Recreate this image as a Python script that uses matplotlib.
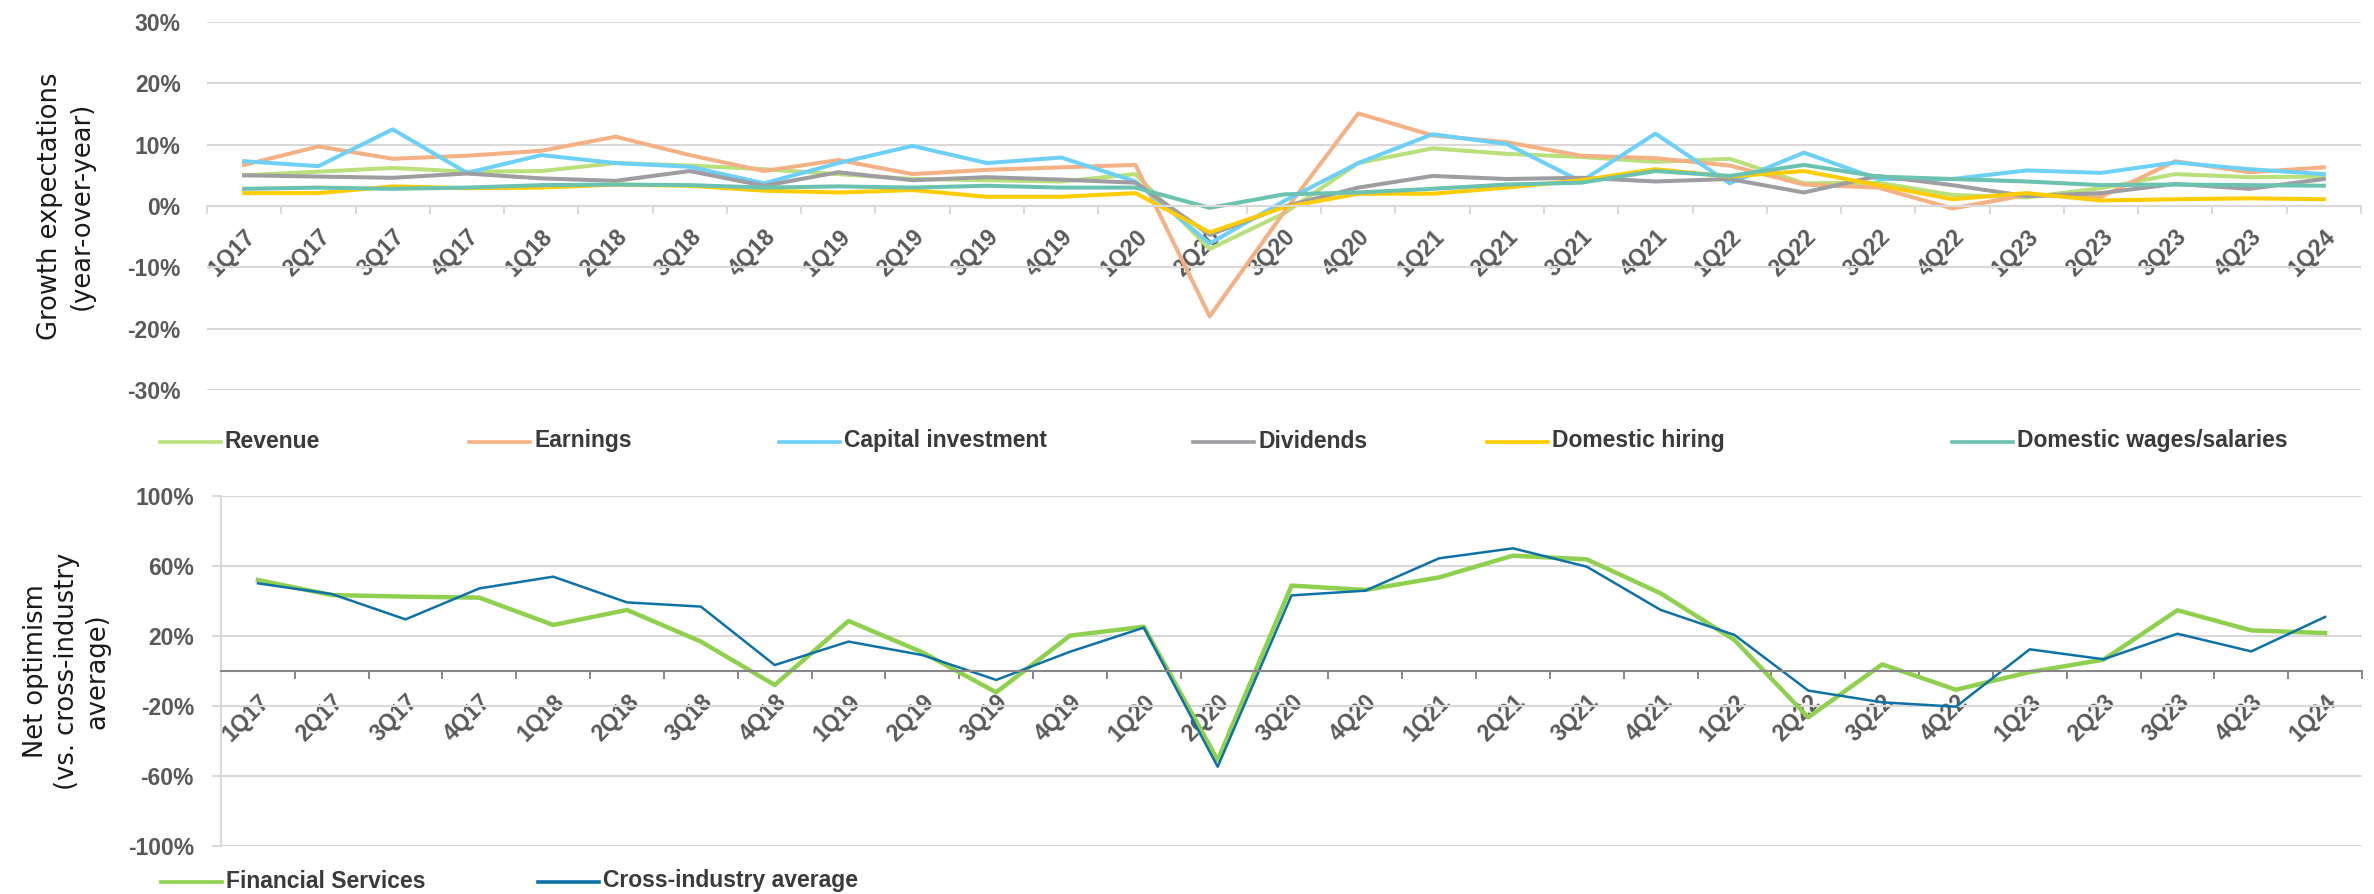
import matplotlib
matplotlib.use("Agg")
import matplotlib.pyplot as plt
import matplotlib.ticker as ticker
from matplotlib.lines import Line2D
import numpy as np

plt.rcParams['font.family'] = ['Liberation Sans', 'DejaVu Sans']
plt.rcParams['font.weight'] = 'bold'

quarters = ['1Q17', '2Q17', '3Q17', '4Q17', '1Q18', '2Q18', '3Q18', '4Q18',
            '1Q19', '2Q19', '3Q19', '4Q19', '1Q20', '2Q20', '3Q20', '4Q20',
            '1Q21', '2Q21', '3Q21', '4Q21', '1Q22', '2Q22', '3Q22', '4Q22',
            '1Q23', '2Q23', '3Q23', '4Q23', '1Q24']

# growth expectations (%, year-over-year)
revenue = [5.0, 5.6, 6.2, 5.6, 5.7, 7.0, 6.6, 6.0, 5.2, 4.4, 4.2, 4.0, 5.2, -7.0, -1.2,
           7.0, 9.4, 8.5, 8.0, 7.2, 7.7, 3.7, 3.8, 1.8, 1.4, 2.9, 5.2, 4.7, 4.8]
earnings = [6.7, 9.7, 7.7, 8.2, 9.0, 11.3, 8.3, 5.7, 7.5, 5.2, 5.9, 6.3, 6.7, -18.0, -1.0,
            15.1, 11.5, 10.4, 8.2, 7.8, 6.6, 3.5, 3.0, -0.4, 1.8, 1.5, 7.3, 5.5, 6.3]
capital_investment = [7.3, 6.5, 12.5, 5.4, 8.3, 7.0, 6.4, 3.7, 7.0, 9.8, 7.0, 7.9, 4.0, -6.1, 0.8,
                      7.0, 11.7, 10.1, 4.0, 11.8, 3.7, 8.7, 4.4, 4.4, 5.8, 5.4, 7.1, 6.0, 5.2]
dividends = [5.0, 4.8, 4.6, 5.3, 4.5, 4.1, 5.7, 3.3, 5.5, 4.2, 4.7, 4.3, 3.8, -4.7, -0.1,
             3.0, 4.9, 4.4, 4.6, 4.0, 4.4, 2.2, 4.9, 3.4, 1.6, 2.1, 3.6, 2.8, 4.4]
domestic_hiring = [2.1, 2.1, 3.2, 2.9, 3.0, 3.5, 3.3, 2.5, 2.2, 2.6, 1.5, 1.5, 2.1, -4.3, -0.2,
                   2.0, 2.0, 3.0, 4.2, 6.0, 4.8, 5.7, 3.4, 1.1, 2.1, 0.9, 1.1, 1.25, 1.1]
domestic_wages = [2.8, 3.0, 2.8, 3.0, 3.4, 3.5, 3.4, 3.0, 3.2, 3.0, 3.3, 3.0, 3.0, -0.3, 1.9,
                  2.2, 2.8, 3.5, 3.8, 5.7, 4.9, 6.7, 4.8, 4.4, 4.0, 3.4, 3.5, 3.4, 3.3]

# net optimism (%)
financial_services = [52.0, 43.4, 42.5, 41.9, 26.3, 34.9, 16.8, -8.0, 28.6, 10.7, -12.2, 20.2, 25.3,
                      -50.9, 48.8, 46.3, 53.5, 65.9, 63.8, 44.4, 17.7, -26.5, 3.8, -10.7, -0.6, 6.5,
                      34.7, 23.2, 21.7]
cross_industry = [50.1, 44.0, 29.5, 47.2, 53.9, 39.2, 36.8, 3.4, 16.8, 9.1, -5.1, 11.0, 24.8,
                  -54.7, 43.2, 45.9, 64.4, 70.1, 59.6, 34.9, 20.6, -11.2, -17.9, -20.4, 12.4, 6.7,
                  21.3, 11.2, 30.9]

top_names = ['Revenue', 'Earnings', 'Capital investment', 'Dividends',
             'Domestic hiring', 'Domestic wages/salaries']
top_series = [revenue, earnings, capital_investment, dividends, domestic_hiring, domestic_wages]
top_colors = ['#B9E07A', '#F4B183', '#6DD0F7', '#9E9EA2', '#FFCC00', '#6CC2B0']
top_legend_x = [160, 469, 779, 1193, 1487, 1952]

bottom_names = ['Financial Services', 'Cross-industry average']
bottom_series = [financial_services, cross_industry]
bottom_colors = ['#8FD14F', '#0E72A6']
bottom_widths = [3.2, 1.8]
bottom_legend_x = [161, 538]

W, H = 2374, 894
fig = plt.figure(figsize=(W / 100, H / 100), dpi=100)


def box(l, t, r, b):
    return [l / W, 1 - b / H, (r - l) / W, (b - t) / H]


grid_c = '#D9D9D9'
tick_c = '#595959'
x = np.arange(len(quarters))


def style_x(ax, spine_color):
    # spine position first: moving it resets the ticks
    for s in ['top', 'right']:
        ax.spines[s].set_visible(False)
    ax.spines['bottom'].set_position(('data', 0))
    ax.spines['bottom'].set_color(spine_color)
    ax.spines['bottom'].set_linewidth(1.5)
    ax.set_xlim(-0.5, len(quarters) - 0.5)
    ax.set_xticks(np.arange(-0.5, len(quarters), 1))
    ax.xaxis.set_major_formatter(ticker.NullFormatter())
    ax.tick_params(axis='x', which='major', length=6, width=1.4, color=spine_color, direction='out')
    ax.tick_params(axis='x', which='minor', length=0, pad=14, labelsize=16.5, labelcolor=tick_c)
    ax.set_xticks(x, quarters, minor=True, rotation=45, ha='right', va='top',
                  rotation_mode='anchor')
    ax.grid(axis='y', color=grid_c, linewidth=1.5)
    ax.set_axisbelow(True)
    ax.yaxis.set_major_formatter(ticker.FuncFormatter(lambda v, p: '{:.0f}%'.format(v)))


# top panel: growth expectations
ax1 = fig.add_axes(box(207, 22, 2361, 390))
for vals, col in zip(top_series, top_colors):
    ax1.plot(x, vals, color=col, linewidth=2.9, clip_on=False)
ax1.set_ylim(-30, 30)
ax1.set_yticks(range(-30, 31, 10))
style_x(ax1, grid_c)
ax1.spines['left'].set_visible(False)
ax1.tick_params(axis='y', length=0, pad=19, labelsize=16.5, labelcolor=tick_c)

# bottom panel: net optimism
ax2 = fig.add_axes(box(221, 496, 2362, 846))
for vals, col, lw in zip(bottom_series, bottom_colors, bottom_widths):
    ax2.plot(x, vals, color=col, linewidth=lw, clip_on=False)
ax2.set_ylim(-100, 100)
ax2.set_yticks([-100, -60, -20, 20, 60, 100])
style_x(ax2, '#878787')
ax2.spines['left'].set_color(grid_c)
ax2.spines['left'].set_linewidth(1.5)
ax2.tick_params(axis='y', length=6.5, width=1.4, color=grid_c, pad=13, labelsize=16.5, labelcolor=tick_c)

# axis titles
fig.text(66 / W, 1 - 206 / H, 'Growth expectations\n(year-over-year)', rotation=90,
         ha='center', va='center', ma='center', fontsize=18.5, family='DejaVu Sans',
         fontweight='normal', color='#1a1a1a', linespacing=1.25)
fig.text(67 / W, 1 - 671 / H, 'Net optimism\n(vs. cross-industry\naverage)', rotation=90,
         ha='center', va='center', ma='center', fontsize=18.5, family='DejaVu Sans',
         fontweight='normal', color='#1a1a1a', linespacing=1.25)


# legends drawn along the figure
def legend_row(names, colors, xs, y):
    for name, col, x0 in zip(names, colors, xs):
        fig.add_artist(Line2D([x0 / W, (x0 + 61) / W], [1 - y / H, 1 - y / H],
                              transform=fig.transFigure, color=col, linewidth=2.6))
        fig.text((x0 + 65) / W, 1 - (y - 1) / H, name, ha='left', va='center',
                 fontsize=16.5, fontweight='bold', color='#3a3a3a')


legend_row(top_names, top_colors, top_legend_x, 442)
legend_row(bottom_names, bottom_colors, bottom_legend_x, 882)

fig.savefig('out.png', dpi=100)
